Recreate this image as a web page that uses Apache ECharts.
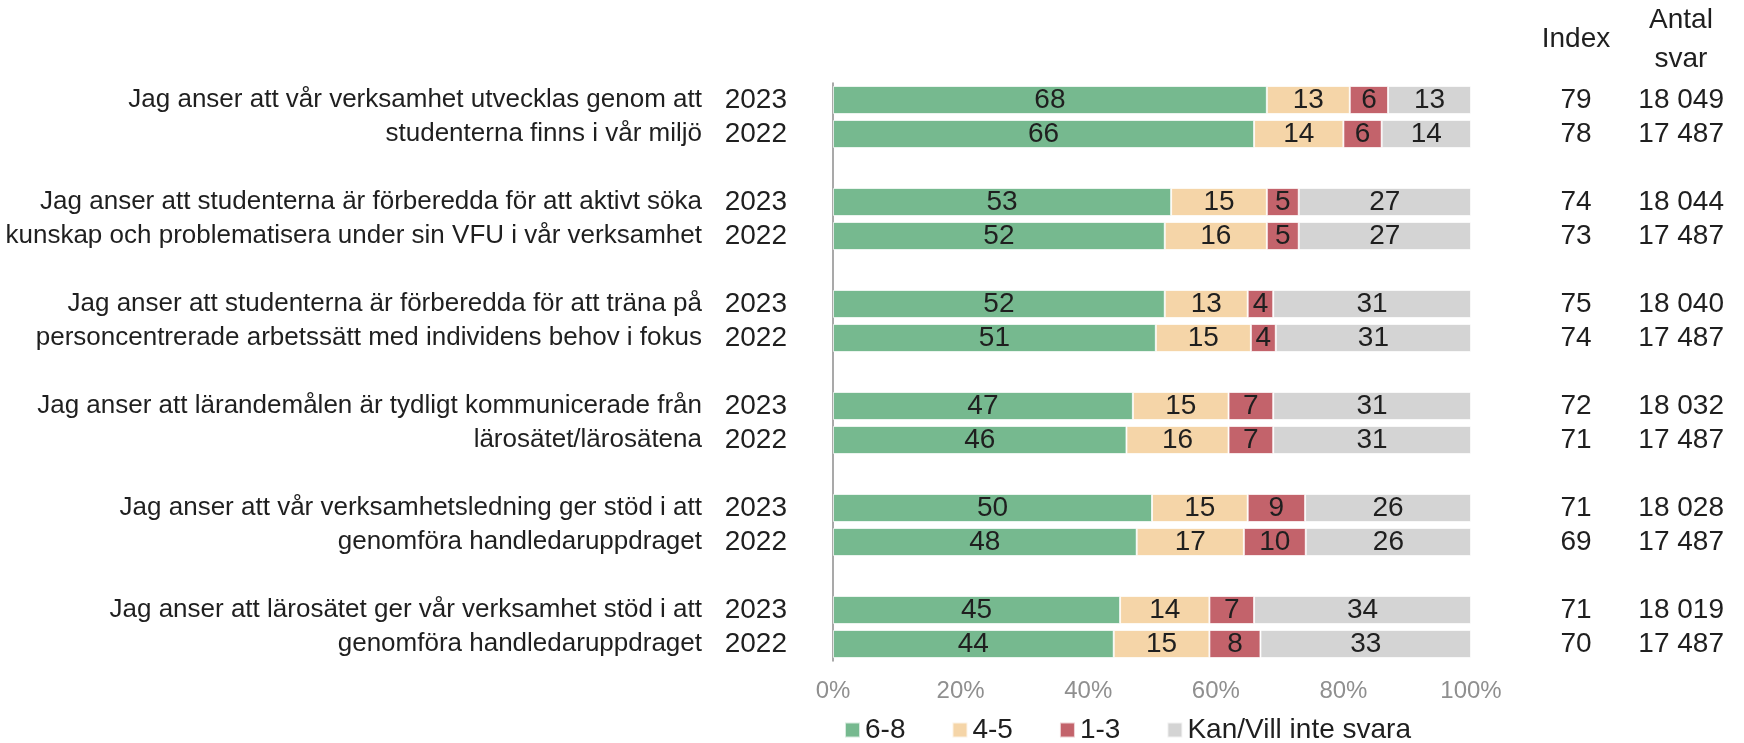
<!DOCTYPE html>
<html>
<head>
<meta charset="utf-8">
<script src="https://cdn.jsdelivr.net/npm/echarts@6/dist/echarts.min.js"></script>
<style>
  html, body { margin: 0; padding: 0; background: #fff; }
  #chart { width: 1744px; height: 743px; }
</style>
</head>
<body>
<div id="chart"></div>
<script>
const questions = [
  ['Jag anser att vår verksamhet utvecklas genom att', 'studenterna finns i vår miljö'],
  ['Jag anser att studenterna är förberedda för att aktivt söka', 'kunskap och problematisera under sin VFU i vår verksamhet'],
  ['Jag anser att studenterna är förberedda för att träna på', 'personcentrerade arbetssätt med individens behov i fokus'],
  ['Jag anser att lärandemålen är tydligt kommunicerade från', 'lärosätet/lärosätena'],
  ['Jag anser att vår verksamhetsledning ger stöd i att', 'genomföra handledaruppdraget'],
  ['Jag anser att lärosätet ger vår verksamhet stöd i att', 'genomföra handledaruppdraget']
]
const years = ['2023', '2022']

// one value per row: question 1 2023, question 1 2022, question 2 2023 ...
const high = [68, 66, 53, 52, 52, 50.6, 47, 46, 50, 47.6, 45, 44]
const mid = [13, 14, 15, 16, 13, 14.9, 15, 16, 15, 16.8, 14, 15]
const low = [6, 6, 5, 5, 4, 3.9, 7, 7, 9, 9.7, 7, 8]
const noAnswer = [13, 14, 27, 27, 31, 30.6, 31, 31, 26, 25.9, 34, 33]
const indexVals = [79, 78, 74, 73, 75, 74, 72, 71, 71, 69, 71, 70]
const antalSvar = ['18 049', '17 487', '18 044', '17 487', '18 040', '17 487',
  '18 032', '17 487', '18 028', '17 487', '18 019', '17 487']

const seriesNames = ['6-8', '4-5', '1-3', 'Kan/Vill inte svara']
const colors = ['#76b98f', '#f5d5a8', '#c3636b', '#d4d4d4']

const font = "'Liberation Sans', Arial, sans-serif"
const textColor = '#1f1f1f'

// slots on the category axis, an empty one between the questions
const slots = []
questions.forEach(function(q, g) {
  if (g > 0) slots.push(-1)
  slots.push(g * 2, g * 2 + 1)
})
const slotNames = slots.map((r, i) => 's' + i)

function slotData(arr) {
  return slots.map(r => (r < 0 ? '-' : arr[r]))
}
function slotLabel(fn) {
  return function(value, index) {
    const r = slots[index]
    return r < 0 ? '' : fn(r)
  }
}

const chart = echarts.init(document.getElementById('chart'))

const series = [high, mid, low, noAnswer].map(function(arr, i) {
  return {
    name: seriesNames[i],
    type: 'bar',
    stack: 'total',
    barWidth: 28,
    itemStyle: { color: colors[i], borderColor: 'rgba(255,255,255,0.7)', borderWidth: 1 },
    label: {
      show: true,
      position: 'inside',
      fontFamily: font,
      fontSize: 28,
      color: textColor,
      formatter: p => Math.round(p.value)
    },
    data: slotData(arr)
  }
})

const hiddenAxis = {
  axisLine: { show: false },
  axisTick: { show: false },
  splitLine: { show: false }
}

chart.setOption({
  animation: false,
  textStyle: { fontFamily: font },
  grid: { left: 833, top: 83, width: 638, height: 578, outerBoundsMode: 'none' },
  legend: {
    data: seriesNames,
    left: 839,
    top: 710,
    icon: 'rect',
    itemWidth: 15,
    itemHeight: 15,
    itemGap: 46,
    textStyle: { fontFamily: font, fontSize: 28, lineHeight: 30, color: textColor }
  },
  xAxis: {
    type: 'value',
    min: 0,
    max: 100,
    interval: 20,
    axisLine: { show: false },
    axisTick: { show: false },
    splitLine: { show: false },
    axisLabel: { formatter: '{value}%', fontFamily: font, fontSize: 24, color: '#8f8f8f', margin: 18 }
  },
  yAxis: [
    {
      type: 'category',
      data: slotNames,
      inverse: true,
      position: 'left',
      axisLine: { show: true, lineStyle: { color: '#8c8c8c', width: 1.5 } },
      axisTick: { show: false },
      axisLabel: {
        margin: 46, fontFamily: font, fontSize: 28, color: textColor, interval: 0,
        formatter: slotLabel(r => years[r % 2])
      }
    },
    Object.assign({
      type: 'category',
      data: slotNames,
      inverse: true,
      position: 'left',
      axisLabel: {
        margin: 131, fontFamily: font, fontSize: 26, color: textColor, interval: 0,
        formatter: slotLabel(r => questions[Math.floor(r / 2)][r % 2])
      }
    }, hiddenAxis),
    Object.assign({
      type: 'category',
      data: slotNames,
      inverse: true,
      position: 'right',
      axisLabel: {
        margin: 105, align: 'center', fontFamily: font, fontSize: 28, color: textColor, interval: 0,
        formatter: slotLabel(r => String(indexVals[r]))
      }
    }, hiddenAxis),
    Object.assign({
      type: 'category',
      data: slotNames,
      inverse: true,
      position: 'right',
      axisLabel: {
        margin: 253, align: 'right', fontFamily: font, fontSize: 28, color: textColor, interval: 0,
        formatter: slotLabel(r => antalSvar[r])
      }
    }, hiddenAxis)
  ],
  graphic: [
    {
      type: 'text', x: 1576, y: 39,
      style: { text: 'Index', font: '28px ' + font, fill: textColor, align: 'center', verticalAlign: 'middle' }
    },
    {
      type: 'text', x: 1681, y: 40,
      style: { text: 'Antal\nsvar', font: '28px ' + font, lineHeight: 39, fill: textColor, align: 'center', verticalAlign: 'middle' }
    }
  ],
  series: series
})
</script>
</body>
</html>
